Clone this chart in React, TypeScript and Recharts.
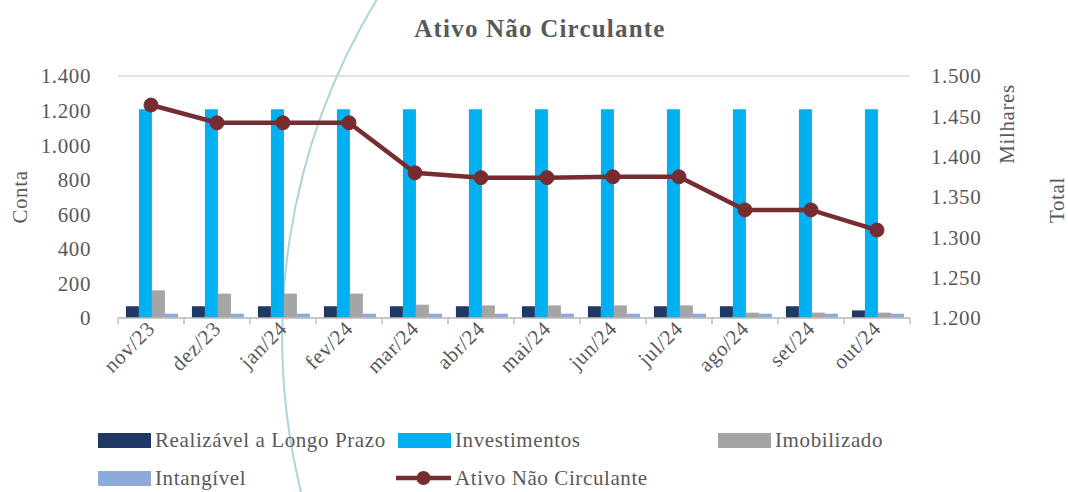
import { ComposedChart, Bar, Line, XAxis, YAxis, CartesianGrid } from "recharts"

const months = ["nov/23", "dez/23", "jan/24", "fev/24", "mar/24", "abr/24", "mai/24", "jun/24", "jul/24", "ago/24", "set/24", "out/24"]
const realizavel = [68, 68, 68, 68, 68, 68, 68, 68, 68, 68, 68, 44]
const investimentos = [1208, 1208, 1208, 1208, 1208, 1208, 1208, 1208, 1208, 1208, 1208, 1208]
const imobilizado = [160, 141, 141, 141, 77, 73, 73, 73, 73, 31, 31, 31]
const intangivel = [25, 25, 25, 25, 25, 25, 25, 25, 25, 25, 25, 25]
const ativoTotal = [1464, 1442, 1442, 1442, 1380, 1374, 1374, 1375, 1375, 1334, 1334, 1309]

const leftTicks = [0, 200, 400, 600, 800, 1000, 1200, 1400]
const rightTicks = [1200, 1250, 1300, 1350, 1400, 1450, 1500]

const FONT = "'Liberation Serif', 'DejaVu Serif', serif"
const TEXT = "#595959"
const FS = 21
const LS = 0.6

const C_REAL = "#203864"
const C_INV = "#00b0f0"
const C_IMOB = "#a5a5a5"
const C_INT = "#8eaadb"
const C_LINE = "#772d2f"

const fmt = (v: number) => String(v).replace(/\B(?=(\d{3})+(?!\d))/g, ".")

const data = months.map((m, i) => ({
  name: m,
  realizavel: realizavel[i],
  investimentos: investimentos[i],
  imobilizado: imobilizado[i],
  intangivel: intangivel[i],
  ativo: ativoTotal[i],
}))

const BAND = (910 - 118) / months.length

function MonthTick(props: any) {
  const { x, y, payload, index } = props
  return (
    <g>
      <line x1={x - BAND / 2} y1={y} x2={x - BAND / 2} y2={y + 6} stroke="#bfbfbf" strokeWidth={1.5} />
      {index === months.length - 1 && (
        <line x1={x + BAND / 2} y1={y} x2={x + BAND / 2} y2={y + 6} stroke="#bfbfbf" strokeWidth={1.5} />
      )}
      <text
        x={x + 5}
        y={y + 12}
        textAnchor="end"
        transform={`rotate(-45 ${x + 5} ${y + 12})`}
        fill={TEXT}
        fontSize={FS}
        letterSpacing={LS}
        fontFamily={FONT}
      >
        {payload.value}
      </text>
    </g>
  )
}

const legendRow1 = [
  { label: "Realizável a Longo Prazo", color: C_REAL, left: 98 },
  { label: "Investimentos", color: C_INV, left: 398 },
  { label: "Imobilizado", color: C_IMOB, left: 718 },
]
const legendRow2 = [{ label: "Intangível", color: C_INT, left: 98 }]

export default function App() {
  const abs = { position: "absolute" as const, fontFamily: FONT, color: TEXT, fontSize: FS, letterSpacing: LS }
  const axisTitle = { fill: TEXT, fontSize: FS, fontFamily: FONT, letterSpacing: LS, textAnchor: "middle" as const }
  return (
    <div style={{ position: "absolute", left: 0, top: 0, width: 1068, height: 492, background: "#fff", overflow: "hidden" }}>
      <svg width={1068} height={492} style={{ position: "absolute", left: 0, top: 0 }}>
        <path d="M 379 -4 A 650 650 0 0 0 302 496" fill="none" stroke="#a9d6dc" strokeWidth={2} />
      </svg>
      <div style={{ position: "absolute", left: 0, top: 0 }}>
        <ComposedChart
          width={1068}
          height={492}
          data={data}
          margin={{ top: 76, right: 0, bottom: 94, left: 0 }}
          barCategoryGap="12%"
          barGap={0}
        >
          <CartesianGrid vertical={false} stroke="#d9d9d9" strokeWidth={1.5} />
          <XAxis
            dataKey="name"
            height={80}
            axisLine={{ stroke: "#bfbfbf", strokeWidth: 1.5 }}
            tickLine={false}
            tickSize={0}
            tickMargin={0}
            interval={0}
            tick={<MonthTick />}
          />
          <YAxis
            yAxisId="left"
            width={118}
            domain={[0, 1400]}
            ticks={leftTicks}
            axisLine={false}
            tickLine={false}
            tickSize={0}
            tickMargin={27}
            tickFormatter={fmt}
            tick={{ fill: TEXT, fontSize: FS, fontFamily: FONT, letterSpacing: LS }}
          />
          <YAxis
            yAxisId="right"
            orientation="right"
            width={158}
            domain={[1200, 1500]}
            ticks={rightTicks}
            axisLine={false}
            tickLine={false}
            tickSize={0}
            tickMargin={21}
            tickFormatter={fmt}
            tick={{ fill: TEXT, fontSize: FS, fontFamily: FONT, letterSpacing: LS, textAnchor: "start" }}
          />
          <Bar yAxisId="left" dataKey="realizavel" fill={C_REAL} isAnimationActive={false} />
          <Bar yAxisId="left" dataKey="investimentos" fill={C_INV} isAnimationActive={false} />
          <Bar yAxisId="left" dataKey="imobilizado" fill={C_IMOB} isAnimationActive={false} />
          <Bar yAxisId="left" dataKey="intangivel" fill={C_INT} isAnimationActive={false} />
          <Line
            yAxisId="right"
            dataKey="ativo"
            stroke={C_LINE}
            strokeWidth={4.5}
            dot={{ r: 7, fill: C_LINE, stroke: C_LINE, strokeWidth: 1 }}
            activeDot={false}
            isAnimationActive={false}
          />
        </ComposedChart>
      </div>

      <svg width={1068} height={492} style={{ position: "absolute", left: 0, top: 0, pointerEvents: "none" }}>
        <text x={540} y={37} fill={TEXT} fontSize={25} fontWeight="bold" fontFamily={FONT} letterSpacing={1.2} textAnchor="middle">
          Ativo Não Circulante
        </text>
        <text x={27} y={197} transform="rotate(-90 27 197)" {...axisTitle}>Conta</text>
        <text x={1014} y={124} transform="rotate(-90 1014 124)" {...axisTitle}>Milhares</text>
        <text x={1064} y={200} transform="rotate(-90 1064 200)" {...axisTitle}>Total</text>
      </svg>

      {legendRow1.map((it) => (
        <div key={it.label} style={{ ...abs, left: it.left, top: 428, height: 24, display: "flex", alignItems: "center", whiteSpace: "nowrap" }}>
          <span style={{ display: "inline-block", width: 53, height: 15, background: it.color, marginRight: 4 }} />
          {it.label}
        </div>
      ))}
      {legendRow2.map((it) => (
        <div key={it.label} style={{ ...abs, left: it.left, top: 466, height: 24, display: "flex", alignItems: "center", whiteSpace: "nowrap" }}>
          <span style={{ display: "inline-block", width: 53, height: 15, background: it.color, marginRight: 4 }} />
          {it.label}
        </div>
      ))}
      <div style={{ ...abs, left: 396, top: 466, height: 24, display: "flex", alignItems: "center", whiteSpace: "nowrap" }}>
        <svg width={55} height={20} style={{ marginRight: 4 }}>
          <line x1={0} y1={10} x2={55} y2={10} stroke={C_LINE} strokeWidth={4.5} />
          <circle cx={27.5} cy={10} r={7} fill={C_LINE} />
        </svg>
        Ativo Não Circulante
      </div>
    </div>
  )
}
